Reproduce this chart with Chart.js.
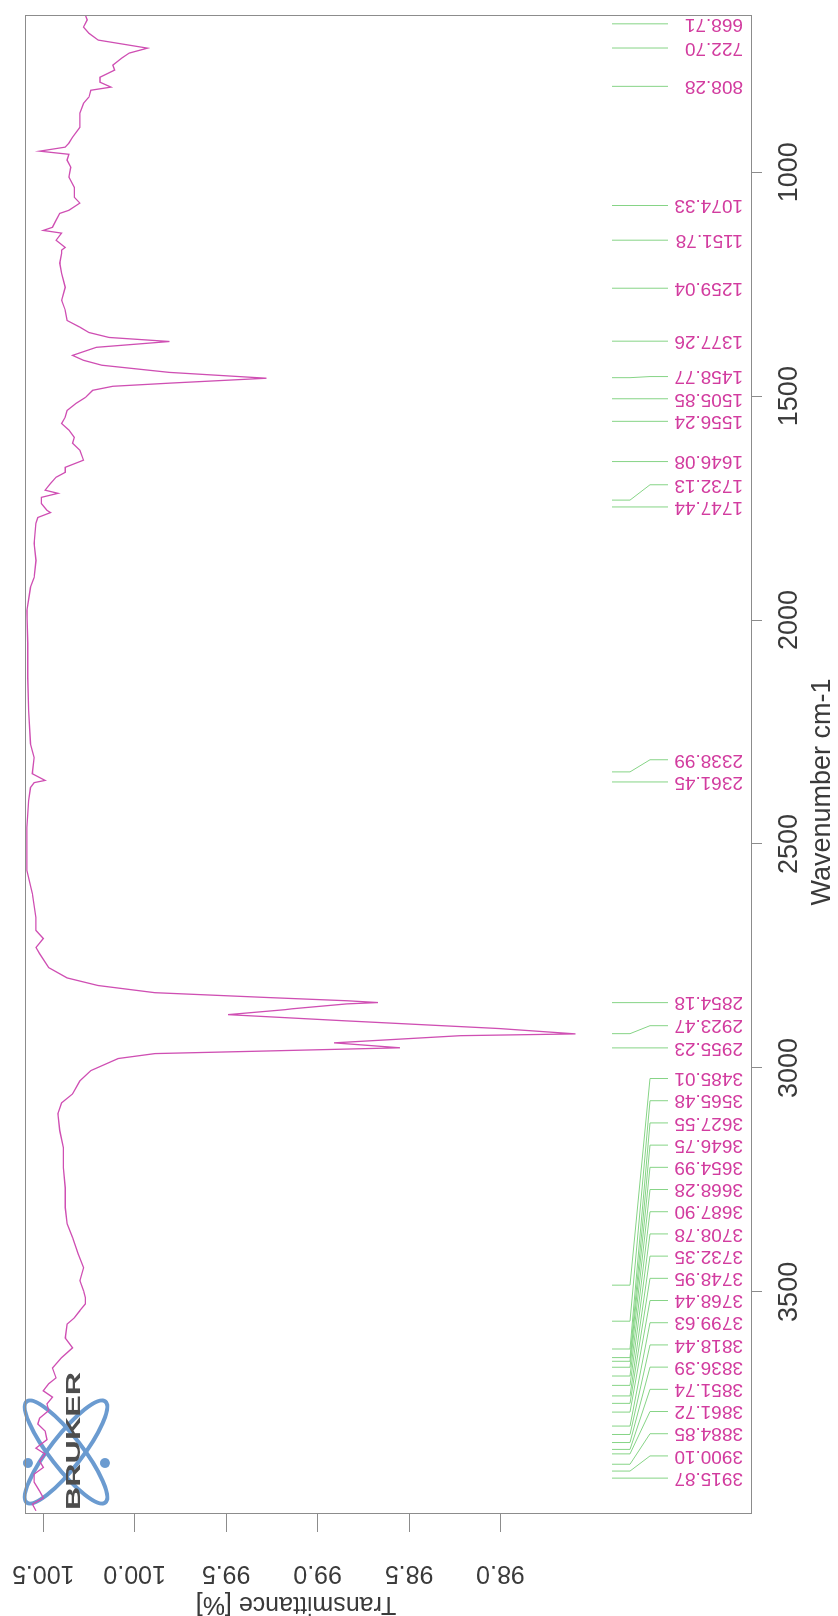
<!DOCTYPE html>
<html>
<head>
<meta charset="utf-8">
<title>IR spectrum</title>
<script src="https://cdn.jsdelivr.net/npm/chart.js@4.4.1/dist/chart.umd.min.js"></script>
<style>
    html, body { margin: 0; padding: 0; background: #fff; overflow: hidden; }
    #page { position: relative; width: 838px; height: 1616px; }
    /* the print is a landscape spectrum turned a quarter turn */
    #wrap { position: absolute; left: 0; top: 0; width: 1616px; height: 838px;
            transform-origin: 0 0; transform: translateY(1616px) rotate(-90deg); }
</style>
</head>
<body>
<div id="page"><div id="wrap"><canvas id="spectrum" width="1616" height="838"></canvas></div></div>
<script>
// wavenumber (cm-1) and transmittance (%)
const wavenumbers = [
    649, 660, 676, 690, 705, 723, 734, 745, 761, 772, 788, 799, 810, 817, 832, 846, 868, 900, 922, 935,
    944, 953, 960, 973, 989, 1011, 1034, 1056, 1069, 1085, 1092, 1107, 1123, 1130, 1136, 1152, 1168, 1174, 1181, 1203,
    1226, 1257, 1286, 1308, 1331, 1346, 1358, 1369, 1378, 1391, 1409, 1420, 1431, 1447, 1460, 1471, 1478, 1487, 1503, 1516,
    1532, 1547, 1561, 1576, 1592, 1605, 1621, 1643, 1659, 1670, 1681, 1695, 1710, 1717, 1726, 1740, 1755, 1760, 1771, 1784,
    1829, 1867, 1905, 1927, 1979, 2052, 2128, 2202, 2276, 2307, 2343, 2358, 2363, 2374, 2403, 2463, 2515, 2559, 2611, 2664,
    2693, 2711, 2731, 2745, 2776, 2799, 2816, 2832, 2843, 2850, 2854, 2857, 2868, 2870, 2881, 2895, 2912, 2924, 2928, 2944,
    2955, 2962, 2968, 2979, 3006, 3029, 3058, 3078, 3102, 3140, 3178, 3223, 3268, 3312, 3348, 3379, 3415, 3446, 3475, 3498,
    3513, 3527, 3542, 3558, 3572, 3603, 3625, 3647, 3670, 3692, 3705, 3721, 3735, 3750, 3765, 3782, 3795, 3811, 3830, 3849,
    3862, 3878, 3892, 3907, 3925, 3945, 3960, 3974, 3989
];
const transmittance = [
    100.27, 100.26, 100.28, 100.25, 100.20, 99.93, 100.03, 100.07, 100.12, 100.11, 100.19, 100.19, 100.13, 100.24, 100.25, 100.28, 100.30, 100.30, 100.34, 100.36,
    100.38, 100.52, 100.36, 100.37, 100.35, 100.36, 100.33, 100.33, 100.30, 100.36, 100.41, 100.43, 100.45, 100.50, 100.40, 100.43, 100.38, 100.40, 100.40, 100.41,
    100.40, 100.38, 100.40, 100.38, 100.37, 100.30, 100.25, 100.14, 99.81, 100.21, 100.34, 100.28, 100.18, 99.81, 99.28, 99.81, 100.12, 100.23, 100.27, 100.32,
    100.37, 100.38, 100.40, 100.36, 100.33, 100.34, 100.30, 100.28, 100.38, 100.38, 100.43, 100.46, 100.49, 100.42, 100.51, 100.51, 100.48, 100.46, 100.53, 100.54,
    100.55, 100.54, 100.55, 100.57, 100.59, 100.585, 100.585, 100.58, 100.57, 100.55, 100.56, 100.49, 100.55, 100.57, 100.58, 100.59, 100.59, 100.59, 100.56, 100.54,
    100.54, 100.50, 100.54, 100.52, 100.47, 100.37, 100.20, 99.89, 99.26, 98.84, 98.67, 98.84, 99.14, 99.18, 99.49, 98.84, 98.01, 97.59, 98.22, 98.91,
    98.55, 99.26, 99.89, 100.09, 100.24, 100.30, 100.34, 100.40, 100.42, 100.41, 100.39, 100.39, 100.38, 100.38, 100.37, 100.34, 100.31, 100.28, 100.30, 100.28,
    100.27, 100.27, 100.30, 100.33, 100.37, 100.38, 100.34, 100.40, 100.45, 100.43, 100.47, 100.50, 100.45, 100.48, 100.47, 100.52, 100.53, 100.49, 100.48, 100.54,
    100.49, 100.52, 100.50, 100.55, 100.55, 100.52, 100.50, 100.56, 100.54
];

// picked peaks
const peaks = [
    668.71, 722.70, 808.28, 1074.33, 1151.78, 1259.04, 1377.26, 1458.77, 1505.85, 1556.24,
    1646.08, 1732.13, 1747.44, 2338.99, 2361.45, 2854.18, 2923.47, 2955.23,
    3485.01, 3565.48, 3627.55, 3646.75, 3654.99, 3668.28, 3687.90, 3708.78, 3732.35, 3748.95,
    3768.44, 3799.63, 3818.44, 3836.39, 3851.74, 3861.72, 3884.85, 3900.10, 3915.87
];

const wavenumberTicks = [1000, 1500, 2000, 2500, 3000, 3500];
const transmittanceTicks = [98.0, 98.5, 99.0, 99.5, 100.0, 100.5];

const FONT = 'Liberation Sans, Arial, sans-serif';
const AXIS_GREY = '#8c8c8c';
const TEXT_GREY = '#3a3a3a';
const PINK = '#cf4fb3';
const LABEL_PINK = '#d23c9f';
const GREEN = '#86d486';

Chart.defaults.font.family = FONT;

/* frame, titles, logo and peak picking */
const decorations = {
    id: 'decorations',
    beforeDatasetsDraw(chart) {
        const ctx = chart.ctx;
        const a = chart.chartArea;
        // atom logo
        ctx.save();
        const cx = a.left + 62, cy = a.top + 41;
        ctx.strokeStyle = '#6b9bd0';
        ctx.lineWidth = 4;
        [0.66, -0.66].forEach(function(r) {
            ctx.beginPath();
            ctx.ellipse(cx, cy, 64, 16, r, 0, Math.PI * 2);
            ctx.stroke();
        });
        ctx.fillStyle = '#6b9bd0';
        [[-11, -38], [-11, 39]].forEach(function(d) {
            ctx.beginPath();
            ctx.arc(cx + d[0], cy + d[1], 5, 0, Math.PI * 2);
            ctx.fill();
        });
        ctx.fillStyle = '#4d4d4d';
        ctx.font = 'bold 20px ' + FONT;
        ctx.textBaseline = 'alphabetic';
        const w = ctx.measureText('BRUKER').width;
        ctx.translate(a.left + 4, a.top + 55);
        ctx.scale(138 / w, 1);
        ctx.fillText('BRUKER', 0, 0);
        ctx.restore();
    },
    afterDraw(chart) {
        const ctx = chart.ctx;
        const a = chart.chartArea;
        const xs = chart.scales.x;
        ctx.save();
        ctx.strokeStyle = AXIS_GREY;
        ctx.lineWidth = 1;
        ctx.strokeRect(a.left + 0.5, a.top + 0.5, a.right - a.left - 1, a.bottom - a.top - 1);

        // axis titles
        ctx.fillStyle = TEXT_GREY;
        ctx.textAlign = 'center';
        ctx.textBaseline = 'middle';
        ctx.font = '27px ' + FONT;
        ctx.fillText('Wavenumber cm-1', 824, a.bottom + 71);
        ctx.save();
        ctx.translate(12, 296);
        ctx.rotate(-Math.PI / 2);
        ctx.font = '25px ' + FONT;
        ctx.fillText('Transmittance [%]', 0, 0);
        ctx.restore();

        // peak labels, pushed apart where they crowd
        ctx.font = '19px ' + FONT;
        ctx.lineWidth = 1;
        const sorted = peaks.slice().sort(function(p, q) { return q - p; });
        let last = -Infinity;
        sorted.forEach(function(wn) {
            const px = xs.getPixelForValue(wn);
            const lx = Math.max(px, last + 22.2);
            last = lx;
            ctx.strokeStyle = GREEN;
            ctx.beginPath();
            ctx.moveTo(px, a.bottom - 140);
            ctx.lineTo(px, a.bottom - 122);
            ctx.lineTo(lx, a.bottom - 102);
            ctx.lineTo(lx, a.bottom - 84);
            ctx.stroke();
            ctx.save();
            ctx.translate(lx, a.bottom - 9);
            ctx.rotate(-Math.PI / 2);
            ctx.fillStyle = LABEL_PINK;
            ctx.textAlign = 'left';
            ctx.textBaseline = 'middle';
            ctx.fillText(wn.toFixed(2), 0, 0);
            ctx.restore();
        });
        ctx.restore();
    }
};

const ctx = document.getElementById('spectrum').getContext('2d');
const spectrumChart = new Chart(ctx, {
    type: 'scatter',
    data: {
        datasets: [{
            data: wavenumbers.map(function(w, i) { return { x: w, y: transmittance[i] }; }),
            showLine: true,
            borderColor: PINK,
            borderWidth: 1.3,
            pointRadius: 0,
            tension: 0
        }]
    },
    options: {
        responsive: false,
        animation: false,
        devicePixelRatio: 1,
        layout: { padding: { top: 22, right: 15, left: 0, bottom: 0 } },
        plugins: {
            legend: { display: false },
            tooltip: { enabled: false }
        },
        scales: {
            x: {
                type: 'linear',
                min: 649,
                max: 3996,
                reverse: true,
                afterBuildTicks: function(s) { s.ticks = wavenumberTicks.map(function(v) { return { value: v }; }); },
                afterFit: function(s) { s.height = 86; },
                border: { display: false },
                grid: { drawOnChartArea: false, tickLength: 10, color: AXIS_GREY },
                ticks: {
                    minRotation: 0, maxRotation: 0, padding: 11,
                    color: TEXT_GREY,
                    font: { size: 27 },
                    callback: function(v) { return String(v); }
                }
            },
            y: {
                type: 'linear',
                min: 96.625,
                max: 100.6,
                afterBuildTicks: function(s) { s.ticks = transmittanceTicks.map(function(v) { return { value: v }; }); },
                afterFit: function(s) { s.width = 102; },
                border: { display: false },
                grid: { drawOnChartArea: false, tickLength: 18, color: AXIS_GREY },
                ticks: {
                    minRotation: 90, maxRotation: 90, crossAlign: 'center', padding: 10,
                    color: TEXT_GREY,
                    font: { size: 25 },
                    callback: function(v) { return v.toFixed(1); }
                }
            }
        }
    },
    plugins: [decorations]
});
</script>
</body>
</html>
